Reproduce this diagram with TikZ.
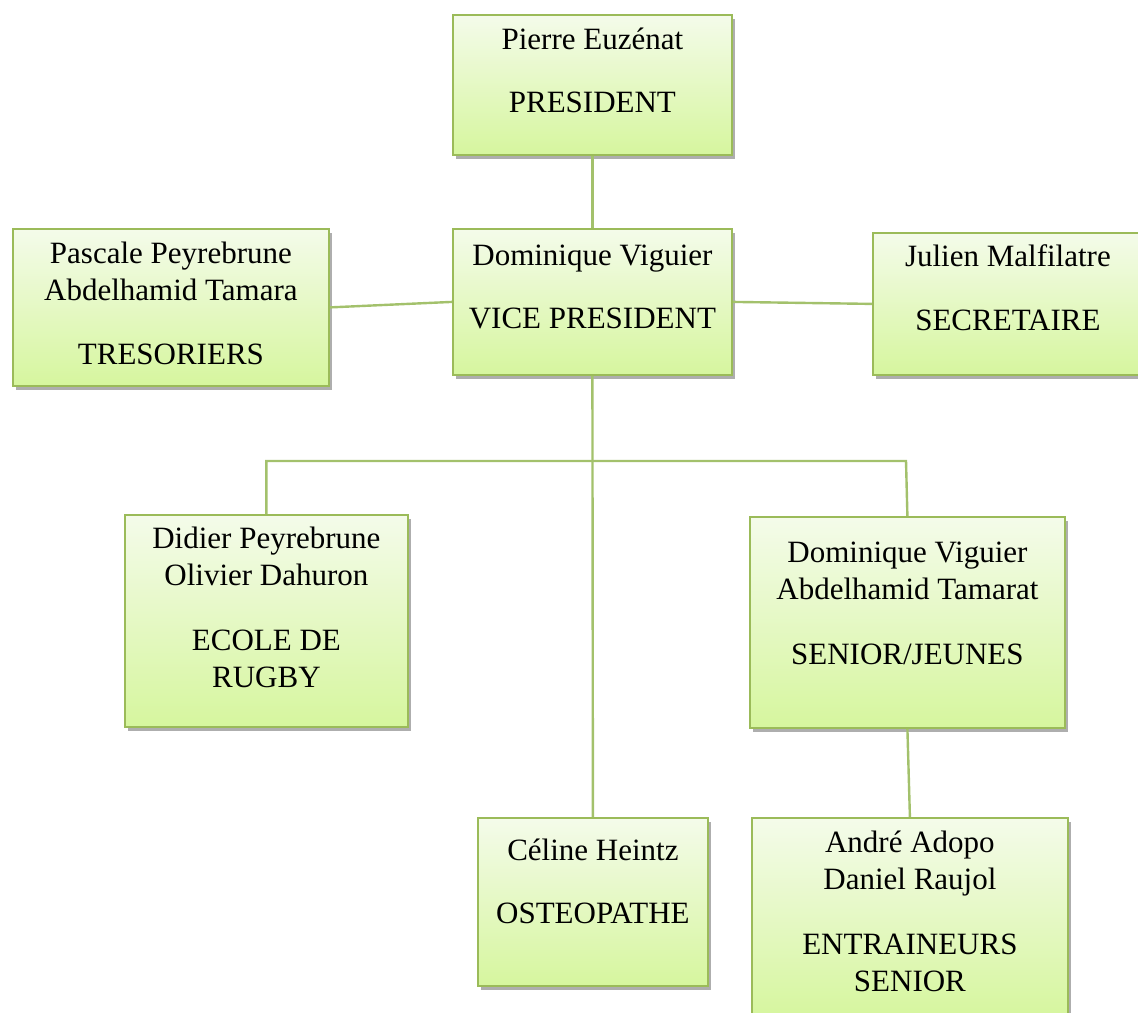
\documentclass[tikz,border=0pt]{standalone}
\usepackage{fontspec}
\setmainfont{Liberation Serif}
\usepackage{tikz}
\usetikzlibrary{shadows}
\definecolor{boxline}{RGB}{155,187,89}
\definecolor{connline}{RGB}{163,193,108}
\definecolor{boxtop}{RGB}{244,251,234}
\definecolor{boxbot}{RGB}{214,246,158}
% width, height, first baseline, text
\newcommand{\orgtext}[4]{\parbox[c][#2][t]{#1}{\centering\fontsize{15.5}{18.5}\selectfont\rule{0pt}{#3}#4}}

\begin{document}
\begin{tikzpicture}[x=0.5pt,y=-0.5pt]

\tikzstyle{orgbox}=[draw=boxline, line width=0.9pt, top color=boxtop, bottom color=boxbot, inner sep=0pt, anchor=north west, drop shadow={shadow xshift=1.3pt, shadow yshift=-2pt, opacity=0.45, fill=black!70}]
\tikzstyle{conn}=[draw=connline, line width=1.2pt]

\useasboundingbox (0,0) rectangle (1138,1012);

% top
\node [orgbox] (pres) at (452,14) {\orgtext{139.5pt}{70pt}{17.5pt}{Pierre Euzénat\\[13pt]PRESIDENT}};
\node [orgbox] (vp) at (452,228) {\orgtext{139.5pt}{73pt}{18.5pt}{Dominique Viguier\\[13pt]VICE PRESIDENT}};
\node [orgbox] (tres) at (12,228) {\orgtext{158pt}{78.5pt}{17.5pt}{Pascale Peyrebrune\\Abdelhamid Tamara\\[13.5pt]TRESORIERS}};
\node [orgbox] (secr) at (872,232) {\orgtext{135pt}{71pt}{17pt}{Julien Malfilatre\\[13.5pt]SECRETAIRE}};

% bottom
\node [orgbox] (ecole) at (124,514) {\orgtext{141.5pt}{106pt}{17pt}{Didier Peyrebrune\\Olivier Dahuron\\[14pt]ECOLE DE\\RUGBY}};
\node [orgbox] (senior) at (749,516) {\orgtext{157.5pt}{105.5pt}{23pt}{Dominique Viguier\\Abdelhamid Tamarat\\[14pt]SENIOR/JEUNES}};
\node [orgbox] (osteo) at (477,817) {\orgtext{115pt}{84pt}{21.5pt}{Céline Heintz\\[13pt]OSTEOPATHE}};
\node [orgbox] (entr) at (751,817) {\orgtext{158pt}{100pt}{17.5pt}{André Adopo\\Daniel Raujol\\[14pt]ENTRAINEURS\\SENIOR}};

\coordinate (bar) at (906,461);

\draw [conn] (pres.south) -- (vp.north);
\draw [conn] (tres.east) -- (vp.west);
\draw [conn] (vp.east) -- (secr.west);
\draw [conn] (vp.south) -- (osteo.north);
\draw [conn] (ecole.north) |- (bar) -- (senior.north);
\draw [conn] (senior.south) -- (entr.north);

\end{tikzpicture}
\end{document}
